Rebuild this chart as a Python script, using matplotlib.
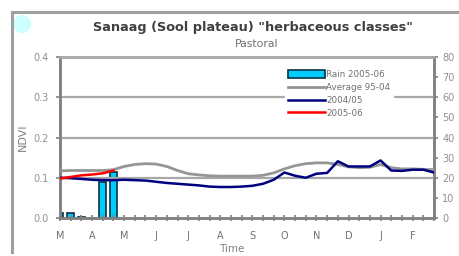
import numpy as np
import matplotlib
matplotlib.use("Agg")
import matplotlib.pyplot as plt
from matplotlib.patches import Ellipse
from matplotlib.lines import Line2D

plt.rcParams['font.family'] = ['DejaVu Sans']

months = ["M", "A", "M", "J", "J", "A", "S", "O", "N", "D", "J", "F"]
dekads = np.arange(36)

avg_95_04 = [0.117, 0.118, 0.118, 0.118, 0.118, 0.120, 0.128, 0.133, 0.135, 0.134,
             0.128, 0.118, 0.110, 0.107, 0.105, 0.104, 0.104, 0.104, 0.104, 0.106,
             0.112, 0.122, 0.130, 0.135, 0.137, 0.137, 0.133, 0.127, 0.125, 0.126,
             0.133, 0.125, 0.122, 0.122, 0.121, 0.120]
ndvi_2004_05 = [0.100, 0.099, 0.097, 0.095, 0.094, 0.094, 0.095, 0.094, 0.093, 0.090,
                0.087, 0.085, 0.083, 0.081, 0.078, 0.077, 0.077, 0.078, 0.080, 0.085,
                0.095, 0.113, 0.105, 0.100, 0.110, 0.112, 0.141, 0.128, 0.128, 0.128,
                0.143, 0.118, 0.117, 0.120, 0.120, 0.113]
ndvi_2005_06 = [0.098, 0.102, 0.106, 0.108, 0.111, 0.118]
rain_2005_06 = [2.5, 2.5, 0.5, 0.0, 18.0, 23.0]

W, H = 460, 256
fig = plt.figure(figsize=(W / 100, H / 100), dpi=100)

# outer frame
fig.add_artist(Line2D([12 / W, 12 / W], [1 - 12 / H, 1 - 252 / H], color="#a0a0a0", lw=2.2))
fig.add_artist(Line2D([12 / W, 1.0], [1 - 12 / H, 1 - 12 / H], color="#a0a0a0", lw=2.2))
fig.add_artist(Ellipse((22 / W, 1 - 24 / H), 18 / W, 18 / H, transform=fig.transFigure,
                       facecolor="#ccffff", edgecolor="none"))

ax = fig.add_axes([60 / W, 1 - 218 / H, (434 - 60) / W, (218 - 57) / H])
ax2 = ax.twinx()

ax.set_zorder(ax2.get_zorder() + 1)
ax.patch.set_visible(False)

gridc = "#a8a8a8"
for yv in [0.1, 0.2, 0.3]:
    ax.axhline(yv, color=gridc, lw=1.6, zorder=0.5)

ax2.bar(dekads[:len(rain_2005_06)], rain_2005_06, width=0.65, color="#00ccff",
        edgecolor="#003344", linewidth=1.2, label="Rain 2005-06", zorder=2)

ax.plot(dekads, avg_95_04, color="#959595", lw=2.0, label="Average 95-04", zorder=3)
ax.plot(dekads, ndvi_2004_05, color="#000080", lw=1.8, label="2004/05", zorder=4)
ax.plot(dekads[:len(ndvi_2005_06)], ndvi_2005_06, color="#ff0000", lw=1.8,
        label="2005-06", zorder=5)

ax.set_xlim(0, 35)
ax.set_ylim(0, 0.4)
ax2.set_ylim(0, 80)
ax.set_yticks([0.0, 0.1, 0.2, 0.3, 0.4])
ax.set_yticklabels(["0.0", "0.1", "0.2", "0.3", "0.4"])
ax2.set_yticks(range(0, 81, 10))

ax.set_xticks(dekads)
ax.set_xticklabels([months[i // 3] if i % 3 == 0 else "" for i in dekads])

for a in (ax, ax2):
    for s in a.spines.values():
        s.set_color("#808080")
        s.set_linewidth(1.8)
    a.tick_params(colors="#808080", labelcolor="#909090", labelsize=7,
                  length=3, width=1.2)
ax.spines["top"].set_color(gridc)
ax2.spines["top"].set_color(gridc)
ax.tick_params(axis="x", direction="inout", length=5, pad=7, labelcolor="#707070")
ax.tick_params(axis="y", pad=5)
ax2.tick_params(axis="y", pad=3)

ax.set_ylabel("NDVI", fontsize=8, color="#808080", labelpad=4)
fig.text(232 / W, 1 - 249 / H, "Time", ha="center", va="center",
         fontsize=7.5, color="#808080")

fig.text(253 / W, 1 - 27 / H, "Sanaag (Sool plateau) \"herbaceous classes\"",
         ha="center", va="center", fontsize=9.3, fontweight="bold", color="#404040")
fig.text(257 / W, 1 - 44 / H, "Pastoral", ha="center", va="center",
         fontsize=7.8, color="#707070")

h1, l1 = ax2.get_legend_handles_labels()
h2, l2 = ax.get_legend_handles_labels()
leg = ax.legend(h1 + h2, l1 + l2, loc="upper left",
                bbox_to_anchor=((281 - 60) / (434 - 60), 1 - (63 - 57) / (218 - 57)),
                fontsize=6.3, frameon=True, framealpha=1.0, edgecolor="white",
                handlelength=4.2, handleheight=0.9, labelspacing=0.45,
                borderpad=0.3, handletextpad=0.2, fancybox=False)
for t in leg.get_texts():
    t.set_color("#707070")

fig.savefig("out.png", dpi=100)
